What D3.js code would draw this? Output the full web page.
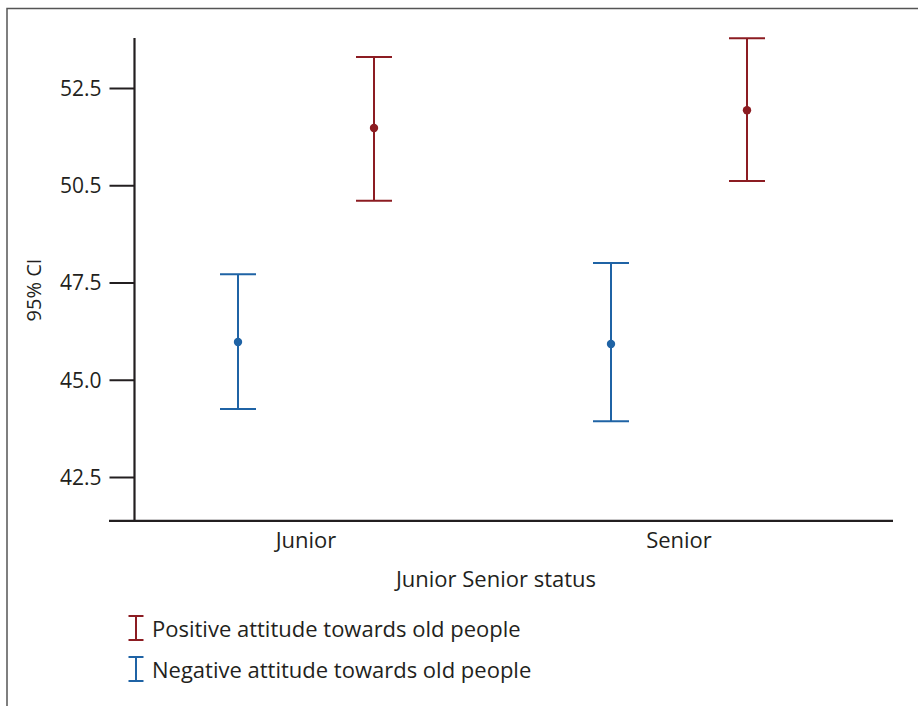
<!DOCTYPE html>
<html><head><meta charset="utf-8">
<script src="https://cdn.jsdelivr.net/npm/d3@7"></script>
<style>body{margin:0;background:#fff}svg{display:block}text{font-family:"Open Sans","Noto Sans",sans-serif;fill:#231f20}</style>
</head><body>
<svg id="c" width="918" height="706"></svg>
<script>
const categories = ["Junior", "Senior"];
const seriesNames = ["Positive attitude towards old people", "Negative attitude towards old people"];
const positiveMean = [51.47, 51.93];
const positiveLow = [49.60, 50.11];
const positiveHigh = [53.30, 53.78];
const negativeMean = [45.97, 45.92];
const negativeLow = [44.25, 43.93];
const negativeHigh = [47.71, 48.00];
const tickValues = [42.5, 45.0, 47.5, 50.0, 52.5];
const tickLabels = ["42.5", "45.0", "47.5", "50.5", "52.5"];
const colors = ["#8c1c22", "#1f63a5"];

const svg = d3.select("#c");
// frame
svg.append("path").attr("d","M7,706 V8.5 H918").attr("fill","none").attr("stroke","#555").attr("stroke-width",1.5);

const y = d3.scaleLinear().domain([42.5, 52.5]).range([477, 88]);
const x = d3.scaleBand().domain(categories).range([119.5, 865.5]).padding(0);
const off = d3.scalePoint().domain(["neg","pos"]).range([-68, 68]);

// axes
const yAxis = d3.axisLeft(y).tickValues(tickValues).tickFormat((d,i)=>tickLabels[i]).tickSize(25).tickPadding(8);
const gy = svg.append("g").attr("transform","translate(134.5,0)").call(yAxis);
gy.select(".domain").remove();
gy.selectAll(".tick line").attr("stroke","#231f20").attr("stroke-width",2);
gy.selectAll(".tick text").style("font-size","21px").attr("fill","#231f20").attr("dy","0.35em");
svg.append("line").attr("x1",134.5).attr("x2",134.5).attr("y1",38).attr("y2",y(41.37)).attr("stroke","#231f20").attr("stroke-width",2.2);
svg.append("line").attr("x1",109).attr("x2",893).attr("y1",y(41.37)).attr("y2",y(41.37)).attr("stroke","#231f20").attr("stroke-width",2.2);

const xAxis = d3.axisBottom(x).tickSize(0).tickPadding(11);
const gx = svg.append("g").attr("transform",`translate(0,${y(41.37)})`).call(xAxis);
gx.select(".domain").remove();
gx.selectAll(".tick text").style("font-size","22px").attr("fill","#231f20");

svg.append("text").attr("x",496).attr("y",587).attr("text-anchor","middle").style("font-size","22px").text("Junior Senior status");
svg.append("text").attr("transform","translate(41,290) rotate(-90)").attr("text-anchor","middle").style("font-size","20px").text("95% CI");

const series = [
  {key:"pos", mean:positiveMean, lo:positiveLow, hi:positiveHigh, color:colors[0]},
  {key:"neg", mean:negativeMean, lo:negativeLow, hi:negativeHigh, color:colors[1]}
];
const cap = 18;
series.forEach(s=>{
  categories.forEach((c,i)=>{
    const cx = x(c) + x.bandwidth()/2 + off(s.key);
    const g = svg.append("g").attr("stroke", s.color).attr("stroke-width",2);
    g.append("line").attr("x1",cx).attr("x2",cx).attr("y1",y(s.hi[i])).attr("y2",y(s.lo[i]));
    g.append("line").attr("x1",cx-cap).attr("x2",cx+cap).attr("y1",y(s.hi[i])).attr("y2",y(s.hi[i]));
    g.append("line").attr("x1",cx-cap).attr("x2",cx+cap).attr("y1",y(s.lo[i])).attr("y2",y(s.lo[i]));
    svg.append("circle").attr("cx",cx).attr("cy",y(s.mean[i])).attr("r",4.2).attr("fill",s.color);
  });
});

// legend
seriesNames.forEach((n,i)=>{
  const ly = 628 + i*41;
  const g = svg.append("g").attr("stroke", colors[i]).attr("stroke-width",2);
  g.append("line").attr("x1",136).attr("x2",136).attr("y1",ly-12).attr("y2",ly+12);
  g.append("line").attr("x1",128.5).attr("x2",143.5).attr("y1",ly-12).attr("y2",ly-12);
  g.append("line").attr("x1",128.5).attr("x2",143.5).attr("y1",ly+12).attr("y2",ly+12);
  svg.append("text").attr("x",152).attr("y",ly+9).style("font-size","22px").text(n);
});
</script>
</body></html>
